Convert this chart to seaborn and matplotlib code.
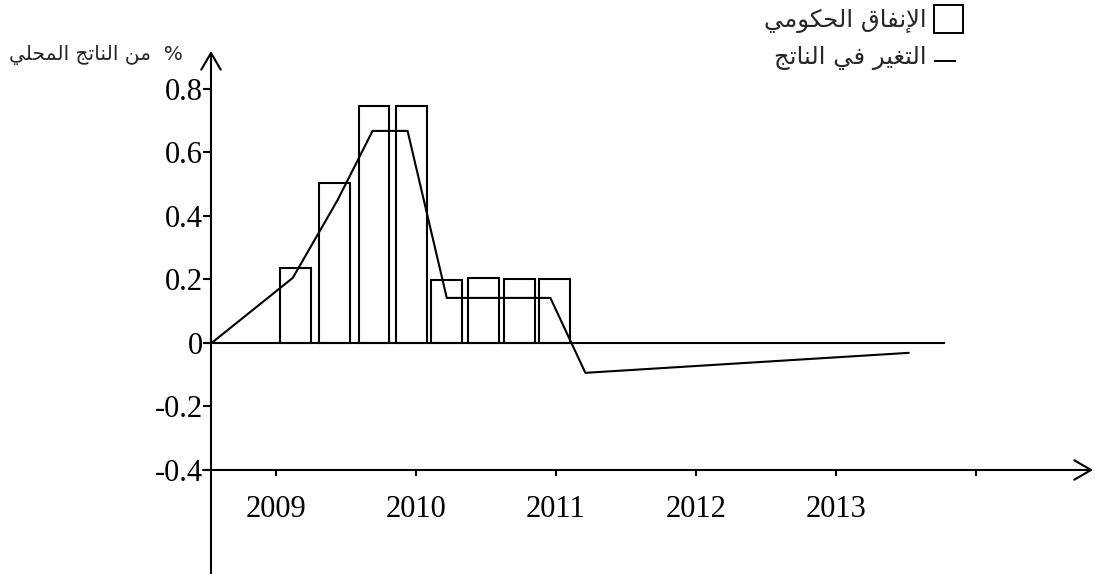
import matplotlib
matplotlib.use("Agg")
import matplotlib.pyplot as plt
from matplotlib.patches import Patch
from matplotlib.lines import Line2D
from matplotlib.legend_handler import HandlerBase
import seaborn as sns

# Government stimulus spending per quarter (% of GDP)
spend_period = [2009.14, 2009.42, 2009.70, 2009.97, 2010.22, 2010.48, 2010.74, 2010.99]
spend_value = [0.236, 0.504, 0.745, 0.745, 0.198, 0.205, 0.200, 0.200]

# Change in output (% of GDP)
output_period = [2008.54, 2009.12, 2009.44, 2009.69, 2009.94, 2010.22, 2010.96, 2011.21, 2013.52]
output_value = [0.0, 0.205, 0.45, 0.668, 0.668, 0.142, 0.142, -0.094, -0.031]

year_ticks = [2009, 2010, 2011, 2012, 2013, 2014]
year_labels = ["2009", "2010", "2011", "2012", "2013", ""]
value_ticks = [0.8, 0.6, 0.4, 0.2, 0.0, -0.2, -0.4]
value_labels = ["0.8", "0.6", "0.4", "0.2", "0", "-0.2", "-0.4"]

label_spending = "الإنفاق الحكومي"
label_output = "التغير في الناتج"
label_yaxis = "%  من الناتج المحلي"

# Contextual letter forms (isolated, final, initial, medial); matplotlib does no
# Arabic shaping or bidi, so the text is shaped here and laid out right-to-left.
_FORMS = {
    "ا": ("\uFE8D", "\uFE8E", None, None),
    "إ": ("\uFE87", "\uFE88", None, None),
    "ت": ("\uFE95", "\uFE96", "\uFE97", "\uFE98"),
    "ج": ("\uFE9D", "\uFE9E", "\uFE9F", "\uFEA0"),
    "ح": ("\uFEA1", "\uFEA2", "\uFEA3", "\uFEA4"),
    "ر": ("\uFEAD", "\uFEAE", None, None),
    "غ": ("\uFECD", "\uFECE", "\uFECF", "\uFED0"),
    "ف": ("\uFED1", "\uFED2", "\uFED3", "\uFED4"),
    "ق": ("\uFED5", "\uFED6", "\uFED7", "\uFED8"),
    "ك": ("\uFED9", "\uFEDA", "\uFEDB", "\uFEDC"),
    "ل": ("\uFEDD", "\uFEDE", "\uFEDF", "\uFEE0"),
    "م": ("\uFEE1", "\uFEE2", "\uFEE3", "\uFEE4"),
    "ن": ("\uFEE5", "\uFEE6", "\uFEE7", "\uFEE8"),
    "و": ("\uFEED", "\uFEEE", None, None),
    "ي": ("\uFEF1", "\uFEF2", "\uFEF3", "\uFEF4"),
}
_LAM_ALEF = {"ا": ("\uFEFB", "\uFEFC"), "إ": ("\uFEF9", "\uFEFA")}


def _joins_forward(ch):
    return ch in _FORMS and _FORMS[ch][2] is not None


def shape_rtl(text):
    out = []
    i, n = 0, len(text)
    while i < n:
        c = text[i]
        if c not in _FORMS:
            out.append(c)
            i += 1
            continue
        joined_prev = i > 0 and _joins_forward(text[i - 1])
        if c == "ل" and i + 1 < n and text[i + 1] in _LAM_ALEF:
            iso, fin = _LAM_ALEF[text[i + 1]]
            out.append(fin if joined_prev else iso)
            i += 2
            continue
        joined_next = _joins_forward(c) and i + 1 < n and text[i + 1] in _FORMS
        iso, fin, ini, med = _FORMS[c]
        if joined_prev and joined_next:
            out.append(med)
        elif joined_prev:
            out.append(fin)
        elif joined_next:
            out.append(ini)
        else:
            out.append(iso)
        i += 1
    return "".join(reversed(out))


class BaselineDashHandler(HandlerBase):
    """Short dash sitting near the text baseline instead of mid-height."""

    def create_artists(self, legend, orig_handle, xdescent, ydescent,
                       width, height, fontsize, trans):
        y = 0.12 * fontsize
        dash = Line2D([-xdescent, -xdescent + 0.76 * width], [y, y],
                      color=orig_handle.get_color(),
                      linewidth=orig_handle.get_linewidth(),
                      solid_capstyle="butt")
        dash.set_transform(trans)
        return [dash]


sns.set_theme(style="white")
plt.rcParams["font.family"] = ["Liberation Serif", "DejaVu Sans"]

W, H = 1095, 574
fig = plt.figure(figsize=(W / 100, H / 100), dpi=100)
ax = fig.add_axes([0, 0, 1, 1])
ax.set_facecolor("white")

# axis frame (arrowed axes crossing at the origin)
y_axis_at = 2008.536
x_axis_at = -0.4
x_lim = (2007.029, 2014.85)
y_lim = (-0.7276, 1.0803)
lw = 1.5

sns.barplot(x=spend_period, y=spend_value, native_scale=True, width=0.88,
            fill=False, color="black", linewidth=lw, errorbar=None, ax=ax)
sns.lineplot(x=output_period, y=output_value, color="black", linewidth=lw,
             sort=False, estimator=None, ax=ax)

# zero reference line
ax.plot([2008.479, 2013.779], [0, 0], color="black", lw=lw, solid_capstyle="butt")

arrow = dict(arrowstyle="->,head_length=1.2,head_width=0.7", lw=lw, color="black",
             mutation_scale=10, shrinkA=0, shrinkB=0)
ax.annotate("", xy=(2014.836, x_axis_at), xytext=(2008.479, x_axis_at), arrowprops=arrow)
ax.annotate("", xy=(y_axis_at, 0.92), xytext=(y_axis_at, y_lim[0]), arrowprops=arrow)

ax.set_xlim(*x_lim)
ax.set_ylim(*y_lim)
for s in ax.spines.values():
    s.set_visible(False)
ax.spines["left"].set_position(("data", y_axis_at))
ax.spines["bottom"].set_position(("data", x_axis_at))

ax.set_xticks(year_ticks, year_labels)
ax.set_yticks(value_ticks, value_labels)
ax.tick_params(axis="x", bottom=True, direction="out", length=4.5, width=lw,
               pad=13.5, labelsize=22, color="black", labelcolor="black")
ax.tick_params(axis="y", left=True, direction="out", length=5.8, width=lw,
               pad=0, labelsize=22, color="black", labelcolor="black")
ax.set_xlabel("")

ax.set_ylabel(shape_rtl(label_yaxis), rotation=0, ha="right", va="center",
              fontdict={"family": ["DejaVu Sans"], "size": 14.5})
ax.yaxis.set_label_coords(183 / W, 1 - 55 / H)

spend_handle = Patch(facecolor="none", edgecolor="black", linewidth=1.4)
output_handle = Line2D([], [], color="black", lw=1.4)
ax.legend([spend_handle, output_handle],
          [shape_rtl(label_spending), shape_rtl(label_output)],
          handler_map={output_handle: BaselineDashHandler()},
          loc="upper right", bbox_to_anchor=(963 / W, 1 - 5 / H),
          bbox_transform=fig.transFigure, frameon=False, markerfirst=False,
          prop={"family": ["DejaVu Sans"], "size": 17.5},
          handlelength=1.19, handleheight=1.4, handletextpad=0.29,
          labelspacing=0.35, borderpad=0, borderaxespad=0)

fig.savefig("out.png", dpi=100, facecolor="white")
